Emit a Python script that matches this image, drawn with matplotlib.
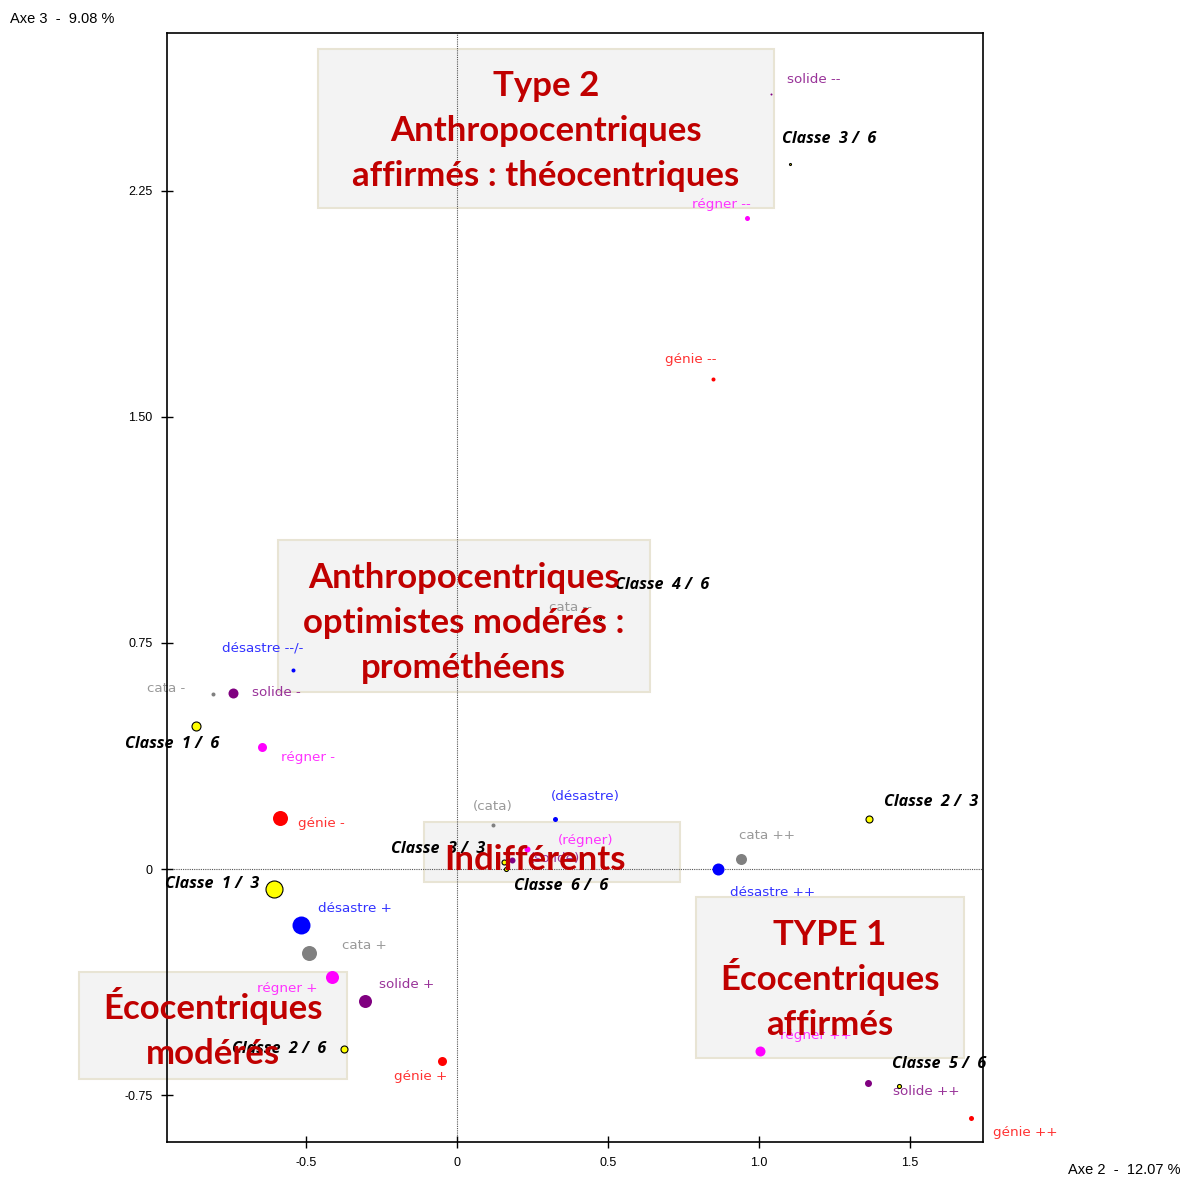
"""Analyse factorielle : plan des axes 2 et 3."""

import numpy as np
import matplotlib
matplotlib.use('Agg')
import matplotlib.pyplot as plt
from matplotlib.patches import Rectangle

# modalites et classes
labels = ['solide --', 'Classe  3 /  6', 'régner --', 'génie --', 'Classe  4 /  6', 'cata --',
          'désastre --/-', 'cata -', 'solide -', 'Classe  1 /  6', 'régner -', 'génie -',
          '(cata)', '(désastre)', '(régner)', '(solide)', 'Classe  3 /  3', 'Classe  6 /  6',
          'Classe  2 /  3', 'cata ++', 'désastre ++', 'Classe  1 /  3', 'désastre +', 'cata +',
          'régner +', 'solide +', 'Classe  2 /  6', 'génie +', 'régner ++', 'solide ++',
          'Classe  5 /  6', 'génie ++']
groups = ['solide', 'classe', 'régner', 'génie', 'classe', 'cata',
          'désastre', 'cata', 'solide', 'classe', 'régner', 'génie',
          'cata', 'désastre', 'régner', 'solide', 'classe', 'classe',
          'classe', 'cata', 'désastre', 'classe', 'désastre', 'cata',
          'régner', 'solide', 'classe', 'génie', 'régner', 'solide',
          'classe', 'génie']
axe2 = [1.039, 1.103, 0.959, 0.848, 0.474, 0.462,
        -0.544, -0.807, -0.743, -0.864, -0.645, -0.586,
        0.121, 0.325, 0.231, 0.184, 0.155, 0.162,
        1.365, 0.940, 0.865, -0.606, -0.517, -0.489,
        -0.412, -0.306, -0.374, -0.049, 1.003, 1.360,
        1.465, 1.702]
axe3 = [2.571, 2.337, 2.160, 1.625, 0.829, 0.835,
        0.660, 0.582, 0.585, 0.474, 0.404, 0.169,
        0.146, 0.165, 0.067, 0.030, 0.025, 0.000,
        0.165, 0.035, 0.002, -0.067, -0.184, -0.277,
        -0.359, -0.437, -0.595, -0.636, -0.603, -0.708,
        -0.719, -0.825]
# diametre des points (px), proportionnel a la contribution
poids = [2, 2, 5, 4, 2, 2,
         4, 4, 10, 9, 9, 15,
         4, 5, 6, 6, 5, 4,
         7, 11, 12, 17, 18, 15,
         13, 13, 7, 9, 10, 7,
         4, 5]

# decalage des etiquettes (px, vers la droite / vers le haut)
decal = [(16, 14), (-8, 25), (-55, 13), (-48, 20), (15, 34), (-47, 10),
         (-71, 22), (-66, 5), (19, 0), (-71, -18), (19, -10), (18, -5),
         (-21, 19), (-4, 23), (31, 8), (17, 2), (-113, 13), (8, -17),
         (15, 17), (-2, 23), (12, -24), (-109, 5), (17, 16), (33, 7),
         (-75, -11), (14, 16), (-112, 0), (-48, -16), (20, 15), (25, -9),
         (-7, 22), (22, -15)]

pt_col = {'désastre': '#0000ff', 'cata': '#808080', 'solide': '#800080',
          'régner': '#ff00ff', 'génie': '#ff0000', 'classe': '#ffff00'}
txt_col = {'désastre': '#3333ff', 'cata': '#999999', 'solide': '#993399',
           'régner': '#ff33ff', 'génie': '#ff3333', 'classe': 'black'}

# encadres des types : textes, cadre (x0, y0, largeur, hauteur) et ancre du texte
# (centre horizontal, premiere ligne de base), en unites des donnees
types = [['Type 2', 'Anthropocentriques', 'affirmés : théocentriques'],
         ['Anthropocentriques', 'optimistes modérés :', 'prométhéens'],
         ['Indifférents'],
         ['TYPE 1', 'Écocentriques', 'affirmés'],
         ['Écocentriques', 'modérés']]
cadres = [(-0.460, 2.192, 1.510, 0.528),
          (-0.593, 0.588, 1.232, 0.504),
          (-0.109, -0.043, 0.848, 0.199),
          (0.791, -0.627, 0.887, 0.534),
          (-1.252, -0.695, 0.887, 0.355)]
ancres = [(0.295, 2.565), (0.023, 0.932), (0.258, -0.003),
          (1.235, -0.250), (-0.808, -0.498)]
interligne = 45  # px

fig = plt.figure(figsize=(11.89, 11.77), dpi=100)
ax = fig.add_axes([167/1189, 1 - 1142/1177, 816/1189, 1109/1177])

ax.set_xlim(-0.960, 1.742)
ax.set_ylim(-0.905, 2.773)

ax.axhline(0, color='#555555', lw=0.8, ls=(0, (1, 1)), zorder=1)
ax.axvline(0, color='#555555', lw=0.8, ls=(0, (1, 1)), zorder=1)

for i in range(len(labels)):
    g = groups[i]
    ec = 'black' if g == 'classe' else pt_col[g]
    ax.plot(axe2[i], axe3[i], 'o', ms=poids[i] * 0.72, mfc=pt_col[g], mec=ec,
            mew=0.8 if g == 'classe' else 0, zorder=3)
    dx, dy = decal[i]
    if g == 'classe':
        ax.annotate(labels[i], (axe2[i], axe3[i]), xytext=(dx * 0.72, dy * 0.72),
                    textcoords='offset points', ha='left', va='center',
                    fontsize=11.6, fontweight='bold', fontstyle='italic',
                    family='Open Sans', color='black', zorder=2)
    else:
        ax.annotate(labels[i], (axe2[i], axe3[i]), xytext=(dx * 0.72, dy * 0.72),
                    textcoords='offset points', ha='left', va='center',
                    fontsize=9.7, family='DejaVu Sans', color=txt_col[g], zorder=2)

for lignes, (x0, y0, w, h), (xc, yb) in zip(types, cadres, ancres):
    ax.add_patch(Rectangle((x0, y0), w, h, fc='#f3f3f3', ec='#e8e4d4', lw=1.5,
                           clip_on=False, zorder=0.5))
    for k, t in enumerate(lignes):
        ax.annotate(t, (xc, yb), xytext=(0, -k * interligne * 0.72),
                    textcoords='offset points', ha='center', va='baseline',
                    fontsize=25, fontweight='bold', family='Lato', color='#c00000',
                    zorder=5, annotation_clip=False)

ax.set_xticks([-0.5, 0, 0.5, 1.0, 1.5])
ax.set_xticklabels(['-0.5', '0', '0.5', '1.0', '1.5'])
ax.set_yticks([-0.75, 0, 0.75, 1.50, 2.25])
ax.set_yticklabels(['-0.75', '0', '0.75', '1.50', '2.25'])
ax.tick_params(direction='inout', length=9, width=1, labelsize=9, pad=6)
for lab in ax.get_xticklabels() + ax.get_yticklabels():
    lab.set_family('Liberation Sans')
for s in ax.spines.values():
    s.set_linewidth(1.2)

fig.text(10/1189, 1 - 19/1177, 'Axe 3  -  9.08 %', fontsize=10.5, family='Liberation Sans',
         ha='left', va='center')
fig.text(1180/1189, 1 - 1170/1177, 'Axe 2  -  12.07 %', fontsize=10.5,
         family='Liberation Sans', ha='right', va='center')

fig.savefig('out.png', dpi=100)
